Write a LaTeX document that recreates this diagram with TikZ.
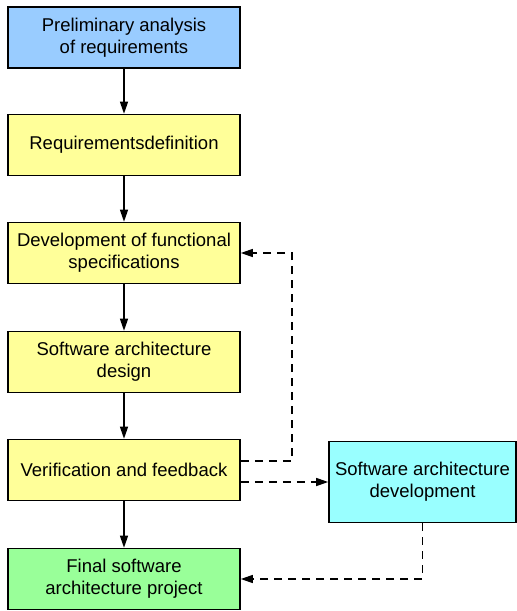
\documentclass[tikz,border=0pt]{standalone}
\usepackage{fontspec}
\setmainfont{Liberation Sans}
\usetikzlibrary{arrows.meta}

\definecolor{prelblue}{HTML}{99CCFF}
\definecolor{stepyellow}{HTML}{FFFF99}
\definecolor{devcyan}{HTML}{99FFFF}
\definecolor{finalgreen}{HTML}{99FF99}

\begin{document}
\begin{tikzpicture}[x=1pt,y=1pt,
	box/.style={draw=black, line width=1.6pt, minimum width=232pt, minimum height=61pt,
		align=center, inner sep=2pt, font=\fontsize{18.5}{22}\selectfont},
	flow/.style={line width=1.3pt, -{Triangle[length=12pt,width=8pt]}},
	back/.style={flow, dash pattern=on 8pt off 6pt}]
	\useasboundingbox (0,0) rectangle (517,-611);

	\draw (124,-37.5) node [box, fill=prelblue] (pre) {Preliminary analysis\\of requirements};
	\draw (124,-145) node [box, fill=stepyellow] (req) {Requirementsdefinition};
	\draw (124,-253) node [box, fill=stepyellow] (dev) {Development of functional\\specifications};
	\draw (124,-362) node [box, fill=stepyellow] (des) {Software architecture\\design};
	\draw (124,-470) node [box, fill=stepyellow] (ver) {Verification and feedback};
	\draw (124,-579) node [box, fill=finalgreen] (fin) {Final software\\architecture project};
	\draw (422.5,-482) node [box, fill=devcyan, minimum width=187pt, minimum height=81pt] (sad) {Software architecture\\development};

	\coordinate (fb) at (292,-253);

	\draw[flow]
		(pre) edge (req)
		(req) edge (dev)
		(dev) edge (des)
		(des) edge (ver)
		(ver) edge (fin)
	;
	\draw[back] ([yshift=9pt]ver.east) -| (fb) -- (dev.east);
	\draw[back] ([yshift=-12pt]ver.east) -- (sad.west);
	\draw[back] (sad.south) |- (fin.east);
\end{tikzpicture}
\end{document}
